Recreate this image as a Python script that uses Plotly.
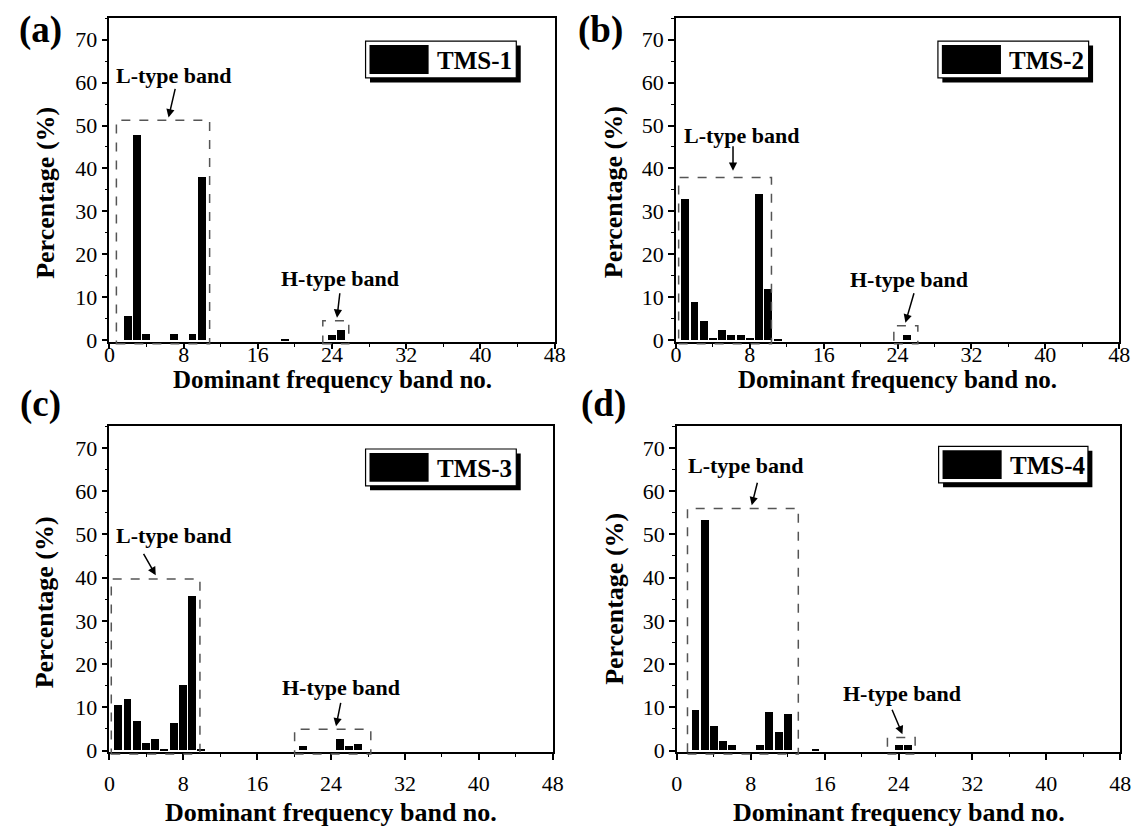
import plotly.graph_objects as go

W, H = 1142, 835
FONT = "Liberation Serif"

# ---------------- data ----------------
series_names = ["TMS-1", "TMS-2", "TMS-3", "TMS-4"]
panel_letters = ["(a)", "(b)", "(c)", "(d)"]

bands_1 = [2, 3, 4, 7, 9, 10, 19, 24, 25]
pct_1 = [5.7, 47.8, 1.4, 1.5, 1.5, 38.0, 0.2, 1.3, 2.5]

bands_2 = [1, 2, 3, 4, 5, 6, 7, 8, 9, 10, 11, 25]
pct_2 = [32.8, 8.9, 4.6, 0.6, 2.3, 1.3, 1.3, 0.6, 34.0, 12.0, 0.2, 1.2]

bands_3 = [1, 2, 3, 4, 5, 6, 7, 8, 9, 10, 21, 25, 26, 27]
pct_3 = [10.5, 11.9, 6.8, 1.7, 2.5, 0.15, 6.4, 15.0, 35.7, 0.1, 0.9, 2.7, 0.9, 1.4]

bands_4 = [2, 3, 4, 5, 6, 9, 10, 11, 12, 15, 24, 25]
pct_4 = [9.4, 53.2, 5.5, 2.2, 1.2, 1.2, 8.8, 4.3, 8.4, 0.2, 1.3, 1.1]

x_label = "Dominant frequency band no."
y_label = "Percentage (%)"
l_label = "L-type band"
h_label = "H-type band"

# L / H band boxes (band range and percentage top)
l_boxes = [(0.75, 10.8, 51.2), (0.3, 10.35, 37.9), (0.2, 9.8, 39.7), (1.15, 13.15, 56.0)]
h_boxes = [(23.0, 25.8, 4.6), (23.6, 26.2, 3.4), (20.05, 28.3, 4.9), (22.8, 25.8, 3.0)]

all_bands = [bands_1, bands_2, bands_3, bands_4]
all_pct = [pct_1, pct_2, pct_3, pct_4]

# ---------------- layout geometry (pixels) ----------------
X_RANGE = [0, 48]
Y_RANGE = [-0.4, 75]
panels = [
    dict(x0=105, x1=557, y0=18.3, y1=346.7),
    dict(x0=680, x1=1130, y0=18.3, y1=346.7),
    dict(x0=105, x1=555, y0=432, y1=762.3),
    dict(x0=681, x1=1131, y0=432, y1=762.3),
]


def px(x):
    return x / W


def py(y):
    return 1 - y / H


def data_to_paper(p, xd, yd):
    fx = (xd - X_RANGE[0]) / (X_RANGE[1] - X_RANGE[0])
    fy = (yd - Y_RANGE[0]) / (Y_RANGE[1] - Y_RANGE[0])
    xpix = p["x0"] + fx * (p["x1"] - p["x0"])
    ypix = p["y1"] - fy * (p["y1"] - p["y0"])
    return px(xpix), py(ypix)


fig = go.Figure()
layout = dict(
    width=W, height=H, margin=dict(l=0, r=0, t=0, b=0),
    paper_bgcolor="white", plot_bgcolor="white",
    font=dict(family=FONT, color="black"),
    showlegend=False, bargap=0,
)
shapes = []
annotations = []

# text/arrow positions per panel (pixels)
l_text = [(171, 77), (747, 137), (171, 543), (751, 472)]
l_arrow = [((172, 89), (165, 119)), ((738, 147), (738, 173)), ((139, 560), (152, 583)), ((763, 488), (757, 512))]
h_text = [(339, 282), (917, 283), (340, 697), (910, 703)]
h_arrow = [((339, 296), (336, 322)), ((922, 296), (913, 327)), ((340, 711), (335, 736)), ((899, 718), (910, 744))]
leg_box = [(365, 41.7, 518, 79), (946, 41.7, 1099, 79), (365, 455, 518, 492.3), (946.7, 452.3, 1098.3, 489.3)]
letter_pos = [(35, 30), (603, 30), (35, 409), (607, 409)]
ytitle_pos = [(40, 195), (617, 195), (40, 610), (617, 607)]
xtitle_pos = [(331, 385), (905, 385), (330, 823), (907, 823)]

for i, p in enumerate(panels):
    sfx = "" if i == 0 else str(i + 1)
    xa = "x" + sfx
    ya = "y" + sfx
    fig.add_trace(go.Bar(
        x=all_bands[i], y=all_pct[i], width=0.85,
        marker=dict(color="black", line=dict(width=0)),
        xaxis=xa, yaxis=ya, name=series_names[i],
    ))
    top_row = i < 2
    layout["xaxis" + sfx] = dict(
        domain=[px(p["x0"]), px(p["x1"])], anchor=ya, range=X_RANGE,
        tickmode="linear", tick0=0, dtick=8,
        ticks="outside", ticklen=6 if not top_row else 5, tickwidth=1.5, tickcolor="black",
        minor=dict(ticks="outside", ticklen=3, tickwidth=1.2, dtick=4, tick0=0, tickcolor="black"),
        showline=True, linewidth=1.5, linecolor="black", mirror=True,
        showgrid=False, zeroline=False,
        tickfont=dict(family=FONT, size=22, color="black"),
        ticklabelstandoff=-13 if top_row else 5,
    )
    layout["yaxis" + sfx] = dict(
        domain=[py(p["y1"]), py(p["y0"])], anchor=xa, range=Y_RANGE,
        tickmode="linear", tick0=0, dtick=10,
        ticks="outside", ticklen=6, tickwidth=1.5, tickcolor="black",
        minor=dict(ticks="outside", ticklen=3, tickwidth=1.2, dtick=5, tick0=0, tickcolor="black"),
        showline=True, linewidth=1.5, linecolor="black", mirror=True,
        showgrid=False, zeroline=False,
        tickfont=dict(family=FONT, size=22, color="black"),
    )
    # dashed band boxes
    for (b0, b1, top) in (l_boxes[i], h_boxes[i]):
        x0p, y0p = data_to_paper(p, b0, -0.8)
        x1p, y1p = data_to_paper(p, b1, top)
        shapes.append(dict(type="rect", xref="paper", yref="paper",
                           x0=x0p, x1=x1p, y0=y0p, y1=y1p,
                           line=dict(color="#555555", width=1.5, dash="dash"),
                           fillcolor="rgba(0,0,0,0)", layer="above"))
    # legend-like box with shadow
    bx0, by0, bx1, by1 = leg_box[i]
    shapes.append(dict(type="rect", xref="paper", yref="paper",
                       x0=px(bx0 + 4.5), x1=px(bx1 + 4.5), y0=py(by1 + 4.5), y1=py(by0 + 4.5),
                       line=dict(width=0), fillcolor="black"))
    shapes.append(dict(type="rect", xref="paper", yref="paper",
                       x0=px(bx0), x1=px(bx1), y0=py(by1), y1=py(by0),
                       line=dict(color="black", width=1.2), fillcolor="white"))
    shapes.append(dict(type="rect", xref="paper", yref="paper",
                       x0=px(bx0 + 4), x1=px(bx0 + 64), y0=py(by1 - 4), y1=py(by0 + 4),
                       line=dict(width=0), fillcolor="black"))
    annotations.append(dict(xref="paper", yref="paper", x=px(bx0 + 70), y=py((by0 + by1) / 2 + 1),
                            text="<b>%s</b>" % series_names[i], showarrow=False, xanchor="left", yanchor="middle",
                            font=dict(family=FONT, size=25, color="black")))
    # L / H labels
    for (tx, ty), ((ax0, ay0), (ax1, ay1)), txt in ((l_text[i], l_arrow[i], l_label), (h_text[i], h_arrow[i], h_label)):
        annotations.append(dict(xref="paper", yref="paper", x=px(tx), y=py(ty), text="<b>%s</b>" % txt,
                                showarrow=False, xanchor="center", yanchor="middle",
                                font=dict(family=FONT, size=22, color="black")))
        annotations.append(dict(xref="paper", yref="paper", x=px(ax1), y=py(ay1), text="",
                                showarrow=True, arrowhead=2, arrowsize=1.1, arrowwidth=1.5, arrowcolor="black",
                                ax=ax0 - ax1, ay=ay0 - ay1))
    # panel letter
    lx, ly = letter_pos[i]
    annotations.append(dict(xref="paper", yref="paper", x=px(lx), y=py(ly), text="<b>%s</b>" % panel_letters[i],
                            showarrow=False, xanchor="center", yanchor="middle",
                            font=dict(family=FONT, size=37, color="black")))
    # axis titles
    tx, ty = ytitle_pos[i]
    annotations.append(dict(xref="paper", yref="paper", x=px(tx), y=py(ty), text="<b>%s</b>" % y_label,
                            showarrow=False, xanchor="center", yanchor="middle", textangle=-90,
                            font=dict(family=FONT, size=26, color="black")))
    tx, ty = xtitle_pos[i]
    annotations.append(dict(xref="paper", yref="paper", x=px(tx), y=py(ty), text="<b>%s</b>" % x_label,
                            showarrow=False, xanchor="center", yanchor="middle",
                            font=dict(family=FONT, size=26 if not top_row else 25, color="black")))

layout["shapes"] = shapes
layout["annotations"] = annotations
fig.update_layout(**layout)
fig.write_html("out.html")
